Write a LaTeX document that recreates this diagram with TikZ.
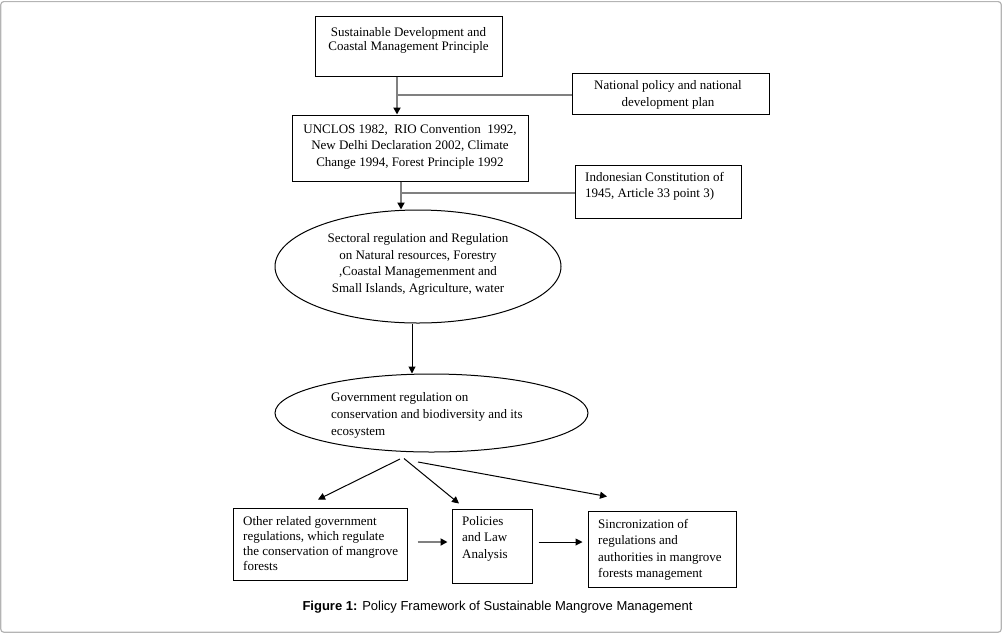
\documentclass[tikz,border=0pt]{standalone}
\usepackage{fontspec}
\setmainfont{Liberation Serif}
\newfontfamily\capfont{Liberation Sans}
\usetikzlibrary{arrows.meta,shapes.geometric}
\definecolor{lgray}{HTML}{808080}
\definecolor{fgray}{HTML}{B4B4B4}
\tikzset{
  boxshape/.style={draw=black, line width=1pt, rectangle, inner sep=0pt},
  ellshape/.style={draw=black, line width=1pt, ellipse, inner sep=0pt},
  txt/.style={font=\fontsize{13}{15.5}\selectfont, inner sep=0pt},
  tipk/.style={-{Triangle[length=7pt,width=7pt,color=black]}},
  garrow/.style={draw=lgray, line width=2pt, tipk},
  gline/.style={draw=lgray, line width=2pt},
  karrow/.style={draw=black, line width=1pt, tipk}
}
\begin{document}
\begin{tikzpicture}[x=1pt,y=-1pt]
\useasboundingbox (0,0) rectangle (1002,633);
\draw[fgray, line width=1.2pt, rounded corners=3pt] (0.8,1.6) rectangle (1001.2,632.2);

% boxes
\node[boxshape, minimum width=187pt, minimum height=60pt] (b1) at (408.5,46) {};
\node[txt, align=center, font=\fontsize{13}{14}\selectfont] (b1t) at (408.5,40) {Sustainable Development and\\Coastal Management Principle};

\node[boxshape, minimum width=197pt, minimum height=41pt] (nat) at (670.5,93.5) {};
\node[txt, align=center, font=\fontsize{13}{16.5}\selectfont] (natt) at (668,95) {National policy and national\\development plan};

\node[boxshape, minimum width=236pt, minimum height=66pt] (unc) at (410,148) {};
\node[txt, align=center, font=\fontsize{13}{16.5}\selectfont] (unct) at (410,147) {UNCLOS 1982,\ \ RIO Convention\ \ 1992,\\New Delhi Declaration 2002, Climate\\Change 1994, Forest Principle 1992};

\node[boxshape, minimum width=166pt, minimum height=53pt] (ind) at (658,191.5) {};
\node[txt, align=left, anchor=west, font=\fontsize{13}{16}\selectfont] (indt) at (585,186.5) {Indonesian Constitution of\\1945, Article 33 point 3)};

\node[ellshape, minimum width=286pt, minimum height=113pt] (e1) at (418,266.5) {};
\node[txt, align=center, font=\fontsize{13}{16.7}\selectfont] (e1t) at (418,264.5) {Sectoral regulation and Regulation\\on Natural resources, Forestry\\,Coastal Managemenment and\\Small Islands, Agriculture, water};

\node[ellshape, minimum width=313pt, minimum height=78pt] (e2) at (431.5,413) {};
\node[txt, align=left, anchor=west, font=\fontsize{13}{16.7}\selectfont] (e2t) at (331,415.5) {Government regulation on\\conservation and biodiversity and its\\ecosystem};

\node[boxshape, minimum width=174pt, minimum height=72pt] (oth) at (320,544) {};
\node[txt, align=left, anchor=west, font=\fontsize{13}{14.7}\selectfont] (otht) at (243,543.5) {Other related government\\regulations, which regulate\\the conservation of mangrove\\forests};

\node[boxshape, minimum width=80pt, minimum height=74pt] (pol) at (492,546) {};
\node[txt, align=left, anchor=west, font=\fontsize{13}{16.5}\selectfont] (polt) at (462,538.5) {Policies\\and Law\\Analysis};

\node[boxshape, minimum width=148pt, minimum height=76pt] (sin) at (662,549) {};
\node[txt, align=left, anchor=west, font=\fontsize{13}{16.5}\selectfont] (sint) at (598,550) {Sincronization of\\regulations and\\authorities in mangrove\\forests management};

% connectors
\coordinate (j1) at (397,94.5);
\draw[garrow] (b1.south -| j1) -- (unc.north -| j1);
\draw[gline] (j1) -- (nat.west |- j1);

\coordinate (j2) at (401,192.5);
\draw[garrow] (unc.south -| j2) -- (e1.north -| j2);
\draw[gline] (j2) -- (ind.west |- j2);

\coordinate (j3) at (412,300);
\draw[karrow] (j3 |- e1.south) -- (j3 |- e2.north);

\coordinate (s1) at (400,459);
\coordinate (t1) at (318,499.5);
\coordinate (s2) at (404,458.5);
\coordinate (t2) at (459,503.5);
\coordinate (s3) at (418,462);
\coordinate (t3) at (607,496.5);
\draw[karrow] (s1) -- (t1);
\draw[karrow] (s2) -- (t2);
\draw[karrow] (s3) -- (t3);

\coordinate (h1) at (0,542);
\draw[garrow] ([xshift=10pt]oth.east |- h1) -- ([xshift=-4pt]pol.west |- h1);
\draw[karrow] ([xshift=6pt]pol.east |- h1) -- ([xshift=-5pt]sin.west |- h1);

\node[inner sep=0pt, font=\capfont\fontsize{13}{15}\selectfont] (cap) at (497.5,607.5) {\textbf{Figure 1:} Policy Framework of Sustainable Mangrove Management};
\end{tikzpicture}
\end{document}
